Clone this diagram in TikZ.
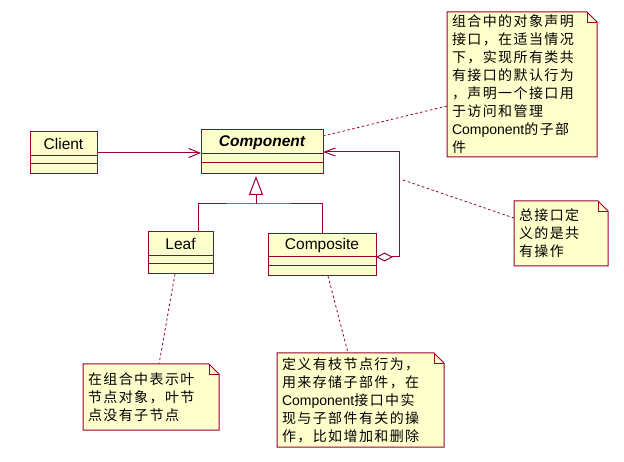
\documentclass[tikz,border=0pt]{standalone}
\usepackage{fontspec}
\setmainfont{Liberation Sans}
\newfontfamily\cjkfont[LetterSpace=10]{Noto Sans CJK SC}
\usetikzlibrary{arrows.meta,backgrounds,positioning}

\definecolor{roseline}{RGB}{153,0,51}
\definecolor{rosefill}{RGB}{255,255,204}

\tikzset{
 umlline/.style={draw=roseline, line width=1pt},
 umlclass/.style={umlline, fill=rosefill, inner sep=0pt, outer sep=0pt},
 classname/.style={font=\fontsize{15.5}{18}\selectfont, inner sep=0pt, minimum height=24},
 note/.style={font=\cjkfont\fontsize{14}{18}\selectfont, align=left, inner xsep=5pt,
              inner ysep=0pt, outer sep=0pt, anchor=north west},
 notebox/.style={draw=roseline, fill=rosefill, line width=1pt},
 notelink/.style={draw=roseline, line width=0.8pt, dash pattern=on 2.5pt off 2.5pt},
 assoc/.style={umlline, -{Straight Barb[length=11pt,width=9pt]}},
 inherit/.style={umlline, -{Triangle[open,length=19pt,width=14pt,fill=white]}, shorten >=2pt},
 aggr/.style={umlline, {Diamond[open,length=17pt,width=9pt,fill=white]}-{Straight Barb[length=11pt,width=8pt]}}
}

\begin{document}
\begin{tikzpicture}[x=1pt, y=-1pt]
 \useasboundingbox (0,0) rectangle (624,462);

 % classes
 \node[umlclass, minimum width=67, minimum height=42] (client) at (63.5,153) {};
 \node[classname, below=0pt of client.north] {Client};
 \draw[umlline] ([yshift=-24pt]client.north west) -- ([yshift=-24pt]client.north east);
 \draw[umlline] ([yshift=-32pt]client.north west) -- ([yshift=-32pt]client.north east);

 \node[umlclass, minimum width=122, minimum height=44] (component) at (262,152) {};
 \node[classname, below=0pt of component.north] {\bfseries\itshape Component};
 \draw[umlline] ([yshift=-24pt]component.north west) -- ([yshift=-24pt]component.north east);
 \draw[umlline] ([yshift=-33pt]component.north west) -- ([yshift=-33pt]component.north east);

 \node[umlclass, minimum width=65, minimum height=42] (leaf) at (180.5,253) {};
 \node[classname, below=0pt of leaf.north] {Leaf};
 \draw[umlline] ([yshift=-24pt]leaf.north west) -- ([yshift=-24pt]leaf.north east);
 \draw[umlline] ([yshift=-32pt]leaf.north west) -- ([yshift=-32pt]leaf.north east);

 \node[umlclass, minimum width=108, minimum height=42] (composite) at (322,255) {};
 \node[classname, minimum height=23, below=0pt of composite.north] {Composite};
 \draw[umlline] ([yshift=-23pt]composite.north west) -- ([yshift=-23pt]composite.north east);
 \draw[umlline] ([yshift=-32pt]composite.north west) -- ([yshift=-32pt]composite.north east);

 % notes
 \node[note, text width=140, minimum height=145] (note1) at (447,12)
  {组合中的对象声明\\接口，在适当情况\\下，实现所有类共\\有接口的默认行为\\，声明一个接口用\\于访问和管理\\{\rmfamily Component}的子部\\件};
 \node[note, text width=84, minimum height=65] (note2) at (514,201)
  {总接口定\\义的是共\\有操作};
 \node[note, text width=126, minimum height=66] (note3) at (83,364)
  {在组合中表示叶\\节点对象，叶节\\点没有子节点};
 \node[note, text width=157, minimum height=94] (note4) at (277,353)
  {定义有枝节点行为，\\用来存储子部件，在\\{\rmfamily Component}接口中实\\现与子部件有关的操\\作，比如增加和删除};

 \begin{scope}[on background layer]
  \foreach \n in {note1,note2,note3,note4}
   \filldraw[notebox] (\n.north west) -- ([xshift=-10pt]\n.north east)
    -- ([yshift=-10pt]\n.north east) -- (\n.south east) -- (\n.south west) -- cycle;
 \end{scope}
 \foreach \n in {note1,note2,note3,note4}
  \draw[umlline, line width=0.8pt] ([xshift=-10pt]\n.north east)
   -- ([xshift=-10pt,yshift=-10pt]\n.north east) -- ([yshift=-10pt]\n.north east);

 % connectors
 \draw[assoc] (client.east) -- (client.east -| component.west);

 \coordinate (joint) at (256,204);
 \draw[umlline] ([xshift=17.5pt]leaf.north) |- (joint) -| (composite.north);
 \draw[inherit] (joint) -- (joint |- component.south);

 \draw[aggr] ([yshift=-2pt]composite.east) -- ++(23,0) |- (component.east);

 \coordinate (aggmid) at (403,180);
 \draw[notelink] ([yshift=-6pt]component.north east) -- ([yshift=-21.5pt]note1.west);
 \draw[notelink] (aggmid) -- ([yshift=15.5pt]note2.west);
 \draw[notelink] ([xshift=-5.5pt]leaf.south) -- ([xshift=8pt]note3.north);
 \draw[notelink] ([xshift=6pt]composite.south) -- ([xshift=-12.5pt]note4.north);
\end{tikzpicture}
\end{document}
